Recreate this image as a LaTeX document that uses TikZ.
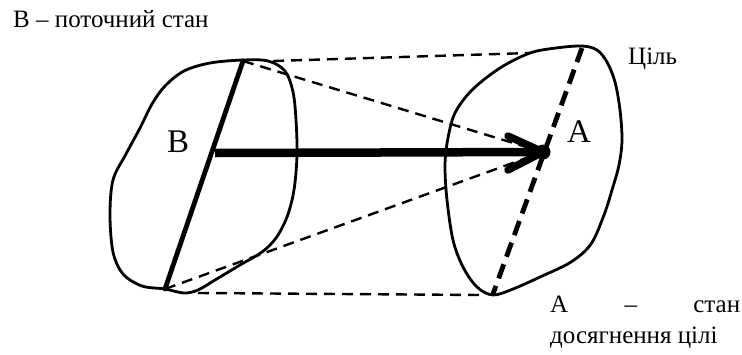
\documentclass[tikz,border=0pt]{standalone}
\usepackage{fontspec}
\setmainfont{Liberation Serif}
\begin{document}
\begin{tikzpicture}[x=1pt,y=-1pt,
  outline/.style={line width=2.8pt,line join=round},
  thinDash/.style={line width=2.4pt,dash pattern=on 11pt off 7pt},
  thickDash/.style={line width=4.8pt,dash pattern=on 15pt off 8pt},
  solidAxis/.style={line width=4.8pt,line cap=round},
  mainArrow/.style={line width=8.5pt},
  barb/.style={line width=7.5pt,line cap=round,line join=round},
  capText/.style={inner sep=0pt,anchor=base west,font=\fontsize{25}{30}\selectfont},
  bigLabel/.style={inner sep=0pt,anchor=base west,font=\fontsize{33}{38}\selectfont}]
\useasboundingbox (0,0) rectangle (742,354);
% named points
\coordinate (topL) at (243,61);
\coordinate (botL) at (165,289);
\coordinate (topR) at (582,48);
\coordinate (botR) at (493,294);
\coordinate (topDashS) at (273,61);
\coordinate (topDashE) at (530,53);
\coordinate (botDashS) at (198,293);
\coordinate (botDashE) at (482,295);
\coordinate (bstart) at (215,153);
\coordinate (barbU) at (508,136);
\coordinate (barbD) at (508,170);
% left blob (B)
\draw[outline] plot[smooth cycle,tension=0.55] coordinates {
 (243,60) (268,61) (285,71) (293,92) (296,120) (297,155) (294,190) (287,217)
 (276,238) (262,252) (240,265) (215,280) (198,290) (184,293) (165,289)
 (142,286) (123,274) (113,252) (110,215) (113,180) (126,154) (140,128)
 (152,104) (165,86) (184,71) (210,63)};
% right blob (A)
\draw[outline] plot[smooth cycle,tension=0.55] coordinates {
 (582,46) (597,50) (607,62) (615,82) (620,110) (622,140) (619,165) (612,190)
 (604,215) (591,244) (571,262) (540,277) (513,289) (493,295) (477,287)
 (463,267) (453,240) (447,200) (445,165) (448,138) (455,113) (472,90)
 (500,68) (530,53) (556,48)};
% dot A
\node[circle,fill,inner sep=0pt,minimum size=15pt] (dotA) at (543,152) {};
% dashed connectors
\draw[thinDash] (topDashS) -- (topDashE);
\draw[thinDash] (botDashS) -- (botDashE);
\draw[thinDash] (topL) -- (dotA.center);
\draw[thinDash] (botL) -- (dotA.center);
% axes
\draw[solidAxis] (topL) -- (botL);
\draw[thickDash] (topR) -- (botR);
% main arrow
\draw[mainArrow] (bstart) -- (dotA.center);
\draw[barb] (barbU) -- (dotA.center) -- (barbD);
% labels
\node[capText] (capB) at (13,27) {В – поточний стан};
\node[capText] (goal) at (628,64) {Ціль};
\node[bigLabel] (labB) at (167,152) {В};
\node[bigLabel] (labA) at (567,142) {А};
\node[capText] (capA1) at (550,312) {\makebox[190pt][s]{А – стан}};
\node[capText] (capA2) at (550,343) {досягнення цілі};
\end{tikzpicture}
\end{document}
